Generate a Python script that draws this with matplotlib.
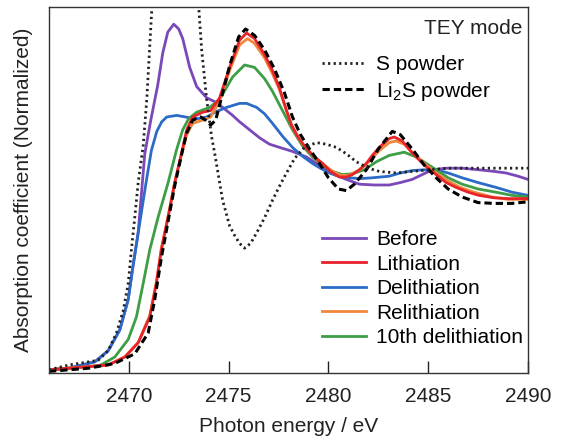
import numpy as np
import matplotlib
matplotlib.use('Agg')
import matplotlib.pyplot as plt

plt.rcParams['font.family'] = ['Liberation Sans', 'DejaVu Sans']
plt.rcParams['mathtext.fontset'] = 'custom'
plt.rcParams['mathtext.rm'] = 'Liberation Sans'
plt.rcParams['mathtext.it'] = 'Liberation Sans:italic'

# S K-edge XANES (energy in eV, normalized absorption)
s_powder_e = [2466.0, 2467.0, 2468.0, 2468.47, 2468.97, 2469.38, 2469.72, 2469.97, 2470.13,
              2470.3, 2470.47, 2470.72, 2470.9, 2471.15, 2471.6, 2472.0, 2472.35, 2472.7,
              2473.1, 2473.5, 2473.65, 2473.9, 2474.15, 2474.3, 2474.55, 2474.7, 2475.05,
              2475.3, 2475.55, 2475.8, 2476.1, 2476.4, 2476.8, 2477.2, 2477.6, 2477.9,
              2478.3, 2478.8, 2479.4, 2479.9, 2480.4, 2480.9, 2481.4, 2482.0, 2482.55,
              2483.4, 2484.2, 2485.05, 2486.0, 2487.0, 2488.0, 2489.0, 2490.0]
s_powder_mu = [0.02, 0.05, 0.07, 0.08, 0.14, 0.25, 0.39, 0.56, 0.77,
               0.975, 1.19, 1.42, 1.71, 2.27, 3.2, 3.9, 4.1, 3.9,
               3.2, 2.29, 2.02, 1.71, 1.475, 1.375, 1.19, 1.08, 0.92,
               0.86, 0.81, 0.78, 0.81, 0.875, 0.97, 1.08, 1.18, 1.25,
               1.34, 1.41, 1.44, 1.43, 1.41, 1.37, 1.32, 1.28, 1.26,
               1.25, 1.26, 1.27, 1.28, 1.28, 1.28, 1.28, 1.28]

li2s_e = [2466.0, 2467.0, 2468.0, 2469.3, 2470.3, 2470.97, 2471.3, 2471.63, 2471.97,
          2472.3, 2472.67, 2472.9, 2473.2, 2473.6, 2473.85, 2474.1, 2474.35, 2474.6,
          2475.05, 2475.5, 2475.85, 2476.3, 2476.8, 2477.3, 2477.8, 2478.2, 2478.6,
          2479.0, 2479.5, 2480.0, 2480.5, 2480.9, 2481.3, 2481.9, 2482.5, 2483.2,
          2483.6, 2484.2, 2484.8, 2485.4, 2486.0, 2486.7, 2487.5, 2488.3, 2489.2, 2490.0]
li2s_mu = [0.01, 0.02, 0.03, 0.06, 0.12, 0.25, 0.46, 0.72, 0.95,
           1.17, 1.38, 1.5, 1.58, 1.6, 1.58, 1.55, 1.58, 1.7,
           1.92, 2.1, 2.15, 2.11, 2.02, 1.9, 1.75, 1.6, 1.49,
           1.41, 1.32, 1.22, 1.15, 1.14, 1.18, 1.27, 1.4, 1.51,
           1.49, 1.4, 1.3, 1.22, 1.15, 1.1, 1.065, 1.06, 1.06, 1.07]

before_e = [2466.0, 2467.0, 2468.3, 2468.97, 2469.55, 2469.97, 2470.2, 2470.47, 2470.8,
            2471.1, 2471.45, 2471.7, 2471.95, 2472.25, 2472.5, 2472.7, 2473.05, 2473.4,
            2473.9, 2474.4, 2474.8, 2475.2, 2475.55, 2476.05, 2476.55, 2477.05, 2477.55,
            2478.2, 2478.9, 2479.4, 2479.9, 2480.4, 2480.9, 2481.55, 2482.3, 2483.05,
            2483.6, 2484.2, 2484.7, 2485.2, 2485.9, 2486.7, 2487.55, 2488.3, 2488.9,
            2489.5, 2490.0]
before_mu = [0.02, 0.03, 0.07, 0.14, 0.27, 0.46, 0.66, 0.88, 1.37,
             1.58, 1.8, 2.0, 2.13, 2.18, 2.15, 2.09, 1.91, 1.79,
             1.72, 1.69, 1.65, 1.61, 1.57, 1.52, 1.47, 1.43, 1.41,
             1.385, 1.35, 1.31, 1.27, 1.235, 1.21, 1.18, 1.175, 1.175,
             1.19, 1.21, 1.24, 1.27, 1.28, 1.28, 1.27, 1.26, 1.25,
             1.23, 1.21]

lith_e = [2466.0, 2467.0, 2468.0, 2468.97, 2469.8, 2470.47, 2471.05, 2471.38, 2471.63,
          2471.97, 2472.3, 2472.67, 2472.9, 2473.2, 2473.7, 2474.1, 2474.55, 2475.05,
          2475.55, 2475.9, 2476.3, 2476.8, 2477.2, 2477.55, 2477.9, 2478.15, 2478.5,
          2478.85, 2479.3, 2479.7, 2480.1, 2480.55, 2480.9, 2481.2, 2481.55, 2481.9,
          2482.2, 2482.55, 2483.05, 2483.3, 2483.7, 2484.2, 2484.8, 2485.4, 2485.9,
          2486.4, 2487.0, 2487.55, 2488.3, 2489.0, 2490.0]
lith_mu = [0.02, 0.03, 0.04, 0.05, 0.1, 0.19, 0.35, 0.56, 0.77,
           0.975, 1.19, 1.39, 1.52, 1.6, 1.63, 1.64, 1.72, 1.91,
           2.08, 2.125, 2.09, 1.99, 1.89, 1.78, 1.64, 1.55, 1.47,
           1.41, 1.35, 1.31, 1.26, 1.225, 1.225, 1.24, 1.27, 1.31,
           1.36, 1.41, 1.465, 1.475, 1.45, 1.375, 1.3, 1.24, 1.19,
           1.16, 1.13, 1.11, 1.095, 1.09, 1.09]

delith_e = [2466.0, 2467.0, 2468.3, 2468.97, 2469.55, 2469.97, 2470.2, 2470.47, 2470.85,
            2471.13, 2471.4, 2471.65, 2471.9, 2472.4, 2473.05, 2473.5, 2473.9, 2474.4,
            2474.9, 2475.55, 2475.9, 2476.4, 2476.8, 2477.2, 2477.7, 2478.2, 2478.7,
            2479.2, 2479.6, 2480.05, 2480.5, 2481.05, 2481.6, 2482.2, 2483.05, 2483.6,
            2484.2, 2484.8, 2485.4, 2486.0, 2486.7, 2487.5, 2488.4, 2489.2, 2490.0]
delith_mu = [0.02, 0.03, 0.07, 0.14, 0.27, 0.46, 0.66, 0.875, 1.18,
             1.39, 1.51, 1.57, 1.6, 1.61, 1.595, 1.59, 1.6, 1.635,
             1.66, 1.685, 1.685, 1.66, 1.62, 1.56, 1.48, 1.41, 1.355,
             1.31, 1.28, 1.25, 1.23, 1.22, 1.215, 1.22, 1.23, 1.25,
             1.265, 1.27, 1.27, 1.25, 1.22, 1.19, 1.16, 1.13, 1.11]

relith_e = [2466.0, 2467.0, 2468.0, 2468.97, 2469.8, 2470.47, 2471.05, 2471.38, 2471.63,
            2471.97, 2472.3, 2472.67, 2472.9, 2473.2, 2473.7, 2474.1, 2474.55, 2475.05,
            2475.55, 2475.95, 2476.3, 2476.8, 2477.2, 2477.55, 2477.9, 2478.15, 2478.5,
            2478.85, 2479.3, 2479.7, 2480.1, 2480.6, 2481.0, 2481.5, 2481.9, 2482.55,
            2483.05, 2483.4, 2483.8, 2484.2, 2484.8, 2485.4, 2486.0, 2486.6, 2487.3,
            2488.2, 2489.0, 2490.0]
relith_mu = [0.02, 0.03, 0.04, 0.05, 0.1, 0.19, 0.36, 0.57, 0.78,
             0.98, 1.19, 1.38, 1.49, 1.56, 1.58, 1.6, 1.7, 1.89,
             2.05, 2.09, 2.06, 1.97, 1.87, 1.77, 1.64, 1.55, 1.47,
             1.41, 1.35, 1.31, 1.27, 1.235, 1.235, 1.265, 1.305, 1.39,
             1.44, 1.45, 1.43, 1.38, 1.31, 1.25, 1.2, 1.16, 1.13,
             1.1, 1.085, 1.085]

delith10_e = [2466.0, 2467.0, 2468.0, 2468.6, 2469.3, 2469.97, 2470.38, 2470.72, 2471.05,
              2471.47, 2471.97, 2472.38, 2472.7, 2473.0, 2473.4, 2474.05, 2474.55, 2475.2,
              2475.8, 2476.3, 2476.8, 2477.2, 2477.7, 2478.2, 2478.7, 2479.2, 2479.7,
              2480.2, 2480.7, 2481.2, 2481.8, 2482.4, 2483.05, 2483.8, 2484.4, 2484.9,
              2485.4, 2486.0, 2486.7, 2487.5, 2488.4, 2489.2, 2490.0]
delith10_mu = [0.02, 0.03, 0.04, 0.05, 0.1, 0.21, 0.35, 0.56, 0.77,
               0.975, 1.19, 1.39, 1.52, 1.59, 1.63, 1.66, 1.71, 1.85,
               1.925, 1.91, 1.84, 1.76, 1.64, 1.52, 1.42, 1.35, 1.3,
               1.26, 1.24, 1.245, 1.27, 1.32, 1.36, 1.38, 1.35, 1.31,
               1.27, 1.22, 1.18, 1.15, 1.13, 1.11, 1.1]

x_ticks = [2470, 2475, 2480, 2485, 2490]

fig = plt.figure(figsize=(5.65, 4.4), dpi=100)
ax = fig.add_axes([0.0867, 0.1523, 0.8478, 0.8318])

c_before = '#7a48b8'
c_lith = '#e8232a'
c_delith = '#2c6cc6'
c_relith = '#f0883c'
c_10th = '#3d9e45'

lw = 2.0
h_before, = ax.plot(before_e, before_mu, color=c_before, lw=lw, label='Before')
h_delith, = ax.plot(delith_e, delith_mu, color=c_delith, lw=lw, label='Delithiation')
h_10th, = ax.plot(delith10_e, delith10_mu, color=c_10th, lw=lw, label='10th delithiation')
h_relith, = ax.plot(relith_e, relith_mu, color=c_relith, lw=lw, label='Relithiation')
h_lith, = ax.plot(lith_e, lith_mu, color=c_lith, lw=lw, label='Lithiation')
h_li2s, = ax.plot(li2s_e, li2s_mu, color='black', lw=2.2, linestyle=(0, (2.4, 1.3)),
                  label='Li$_2$S powder')
h_s, = ax.plot(s_powder_e, s_powder_mu, color='#222222', lw=2.0, linestyle=(0, (0.8, 1.2)),
               label='S powder')

ax.set_xlim(2466, 2490)
ax.set_ylim(0, 2.2875)
ax.set_xticks(x_ticks)
ax.set_yticks([])
ax.tick_params(axis='x', direction='in', length=9, width=1, pad=10, labelsize=15, colors='#222222')
for sp in ax.spines.values():
    sp.set_linewidth(1.0)
    sp.set_color('#333333')

ax.set_xlabel('Photon energy / eV', fontsize=15, color='#222222', labelpad=8)
ax.set_ylabel('Absorption coefficient (Normalized)', fontsize=15, color='#222222')
ax.yaxis.set_label_coords(-0.034, 0.5)

ax.text(0.9875, 0.926, 'TEY mode', transform=ax.transAxes, ha='right', va='baseline',
        fontsize=15, color='#222222')

leg1 = ax.legend(handles=[h_s, h_li2s], loc='upper left', bbox_to_anchor=(0.571, 0.869),
                 frameon=False, fontsize=15, handlelength=2.1, handletextpad=0.48,
                 labelspacing=0.27, borderpad=0, borderaxespad=0)
ax.add_artist(leg1)
ax.legend(handles=[h_before, h_lith, h_delith, h_relith, h_10th], loc='upper left',
          bbox_to_anchor=(0.571, 0.391), frameon=False, fontsize=15, handlelength=2.1,
          handletextpad=0.48, labelspacing=0.27, borderpad=0, borderaxespad=0)

fig.savefig('out.png', dpi=100)
